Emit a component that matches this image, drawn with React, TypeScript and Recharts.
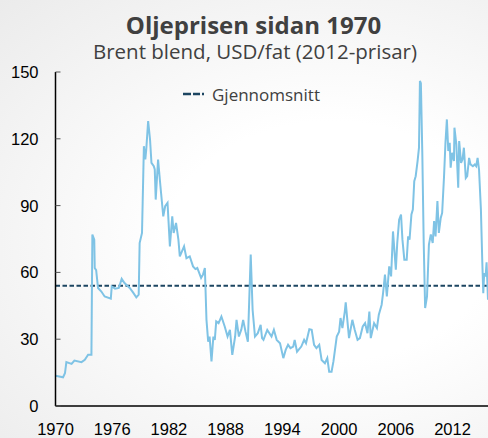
import { LineChart, Line, XAxis, YAxis, ReferenceLine, Legend } from 'recharts';

// Brent blend, USD/fat i 2012-prisar (avlest frå figuren)
const YEARS = [
  1970.0, 1970.8, 1971.0, 1971.15, 1971.7, 1972.0, 1972.75, 1973.1, 1973.45, 1973.8,
  1973.9, 1974.1, 1974.15, 1974.3, 1974.5, 1974.85, 1975.2, 1975.85, 1975.95, 1976.3,
  1976.7, 1977.0, 1977.3, 1977.85, 1978.2, 1978.55, 1978.8, 1978.9, 1979.15, 1979.35,
  1979.5, 1979.6, 1979.8, 1980.0, 1980.15, 1980.4, 1980.5, 1980.6, 1980.85, 1981.1,
  1981.4, 1981.6, 1981.85, 1982.1, 1982.35, 1982.5, 1982.75, 1983.0, 1983.15, 1983.6,
  1983.85, 1984.2, 1984.55, 1984.8, 1985.0, 1985.4, 1985.6, 1985.8, 1985.97, 1986.15,
  1986.3, 1986.5, 1986.7, 1986.85, 1987.0, 1987.25, 1987.55, 1987.9, 1988.2, 1988.45,
  1988.7, 1989.0, 1989.15, 1989.4, 1989.65, 1989.85, 1990.1, 1990.35, 1990.65, 1990.85,
  1991.1, 1991.4, 1991.7, 1991.85, 1992.0, 1992.4, 1992.85, 1993.1, 1993.4, 1993.75,
  1994.1, 1994.35, 1994.6, 1994.85, 1995.15, 1995.3, 1995.55, 1996.0, 1996.3, 1996.5,
  1996.85, 1997.1, 1997.35, 1997.6, 1997.9, 1998.15, 1998.5, 1998.75, 1998.95, 1999.2,
  1999.4, 1999.75, 2000.0, 2000.15, 2000.35, 2000.6, 2000.7, 2000.9, 2001.05, 2001.4,
  2001.65, 2001.95, 2002.2, 2002.5, 2002.75, 2003.0, 2003.2, 2003.35, 2003.7, 2004.0,
  2004.2, 2004.5, 2004.65, 2004.85, 2005.05, 2005.3, 2005.5, 2005.7, 2006.0, 2006.15,
  2006.35, 2006.55, 2006.7, 2006.9, 2007.15, 2007.3, 2007.45, 2007.65, 2007.8, 2007.95,
  2008.1, 2008.3, 2008.45, 2008.55, 2008.65, 2008.8, 2008.95, 2009.1, 2009.3, 2009.5,
  2009.7, 2009.9, 2010.05, 2010.2, 2010.4, 2010.55, 2010.75, 2010.9, 2011.1, 2011.25,
  2011.4, 2011.55, 2011.7, 2011.8, 2011.95, 2012.15, 2012.2, 2012.4, 2012.6, 2012.7,
  2012.9, 2013.05, 2013.2, 2013.4, 2013.55, 2013.75, 2013.9, 2014.15, 2014.35, 2014.5,
  2014.65, 2014.8, 2015.0, 2015.15, 2015.25, 2015.35, 2015.5, 2015.6, 2015.75,
];

const PRICES = [
  13.6, 12.9, 14.7, 19.7, 18.9, 20.4, 19.7, 20.7, 23.0, 23.0,
  77.0, 74.7, 62.0, 61.0, 53.0, 51.4, 49.2, 48.2, 53.7, 52.7,
  53.0, 57.1, 55.2, 53.0, 51.0, 48.8, 50.0, 73.2, 77.7, 116.7,
  110.7, 115.2, 128.0, 119.7, 109.2, 107.7, 106.2, 92.7, 110.7, 98.7,
  85.2, 89.7, 91.2, 71.7, 85.2, 77.7, 82.2, 74.7, 67.2, 71.7,
  66.4, 67.2, 62.7, 61.5, 62.0, 57.5, 59.0, 62.0, 38.7, 28.9,
  31.2, 20.0, 31.2, 29.7, 38.0, 37.2, 40.2, 35.7, 31.2, 34.2,
  23.0, 31.2, 38.7, 31.2, 34.2, 38.7, 33.4, 28.9, 68.0, 43.2,
  31.2, 32.7, 36.4, 30.5, 29.7, 34.2, 31.2, 34.2, 29.7, 28.2,
  21.5, 25.2, 27.5, 26.0, 26.7, 29.7, 24.4, 26.7, 29.7, 28.2,
  34.5, 34.2, 27.5, 26.0, 27.5, 20.7, 19.2, 21.5, 15.4, 15.4,
  20.0, 31.2, 33.4, 39.5, 35.0, 42.4, 46.5, 37.2, 30.5, 38.7,
  34.2, 29.7, 30.5, 35.7, 37.2, 32.7, 42.4, 30.5, 37.2, 35.0,
  41.0, 45.5, 50.7, 59.0, 49.2, 62.7, 58.2, 78.4, 61.2, 73.2,
  83.7, 86.0, 74.7, 65.7, 65.7, 76.2, 74.7, 86.0, 88.2, 101.0,
  103.2, 110.0, 116.0, 146.0, 145.0, 113.7, 73.2, 44.0, 49.2, 72.5,
  77.0, 73.2, 83.0, 76.2, 92.0, 77.7, 84.5, 86.7, 103.2, 118.2,
  128.7, 114.5, 118.2, 107.0, 113.7, 110.0, 125.0, 117.5, 98.0, 119.0,
  109.2, 110.7, 116.0, 102.4, 103.2, 111.4, 108.5, 107.7, 108.5, 107.7,
  111.4, 106.2, 88.2, 64.2, 50.7, 59.7, 58.2, 64.5, 47.7,
];

const AVERAGE = 54;
const AVERAGE_LABEL = 'Gjennomsnitt';
const X_TICKS = [1970, 1976, 1982, 1988, 1994, 2000, 2006, 2012];
const Y_TICKS = [0, 30, 60, 90, 120, 150];

const data = YEARS.map((year, i) => ({ year, price: PRICES[i] }));

const PLOT_LEFT = 55.5;
const LINE_BLUE = '#7fc3e5';
const DASH_NAVY = '#1c4561';
const TEXT_GREY = '#404040';
const TITLE_FONT = "'Open Sans', sans-serif";
const AXIS_FONT = "'Liberation Sans', Arial, sans-serif";

const YTick = ({ x, y, payload }: any) => (
  <g>
    <line x1={PLOT_LEFT} x2={PLOT_LEFT + 5} y1={y} y2={y} stroke="#555" strokeWidth={1} />
    <text x={x} y={y} textAnchor="end" dominantBaseline="central" fontSize={16.5}
      fontFamily={AXIS_FONT} fill="#000">
      {payload.value}
    </text>
  </g>
);

const AverageLegend = () => (
  <div style={{ display: 'flex', alignItems: 'center', fontFamily: TITLE_FONT, fontSize: 17, lineHeight: '17px', color: TEXT_GREY }}>
    <svg width={22} height={6} style={{ marginRight: 7 }}>
      <line x1={0} x2={21} y1={3} y2={3} stroke={DASH_NAVY} strokeWidth={2.5} strokeDasharray="8 2 7 2 2" />
    </svg>
    <span>{AVERAGE_LABEL}</span>
  </div>
);

export default function App() {
  return (
    <div style={{
      position: 'absolute', left: 0, top: 0, width: 488, height: 438, overflow: 'hidden',
      background: 'radial-gradient(ellipse at 68% 55%, #ffffff 35%, #ebebeb 100%)',
    }}>
      <div style={{
        position: 'absolute', top: 13, left: 0, width: 507, textAlign: 'center',
        fontFamily: TITLE_FONT, fontWeight: 700, fontSize: 24, lineHeight: '24px', color: TEXT_GREY,
      }}>
        Oljeprisen sidan 1970
      </div>
      <div style={{
        position: 'absolute', top: 40.5, left: 0, width: 510, textAlign: 'center',
        fontFamily: TITLE_FONT, fontSize: 20.5, lineHeight: '20.5px', color: TEXT_GREY,
      }}>
        Brent blend, USD/fat (2012-prisar)
      </div>
      <LineChart width={488} height={438} data={data}
        margin={{ top: 72, right: 0, bottom: 0, left: 10.5 }}
        style={{ position: 'absolute', left: 0, top: 0 }}>
        <XAxis dataKey="year" type="number" domain={[1970, 2015.75]} ticks={X_TICKS}
          allowDataOverflow height={32} tickSize={0} tickMargin={17}
          axisLine={{ stroke: '#000', strokeWidth: 1.5 }} tickLine={false}
          tick={{ fontSize: 16.5, fill: '#000', fontFamily: AXIS_FONT }} />
        <YAxis type="number" domain={[0, 150]} ticks={Y_TICKS} width={45}
          tickSize={0} tickMargin={17} tickLine={false}
          axisLine={{ stroke: '#000', strokeWidth: 1.5 }} tick={<YTick />} />
        <ReferenceLine y={AVERAGE} stroke={DASH_NAVY} strokeWidth={2} strokeDasharray="4.5 2.5" />
        <Line type="linear" dataKey="price" stroke={LINE_BLUE} strokeWidth={2} dot={false}
          isAnimationActive={false} />
        <Legend layout="horizontal" verticalAlign="middle" align="center"
          wrapperStyle={{ top: 85.5, left: 183, width: 'auto' }} content={<AverageLegend />} />
      </LineChart>
    </div>
  );
}
